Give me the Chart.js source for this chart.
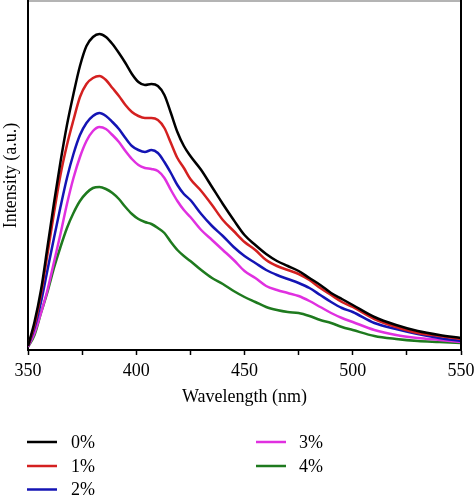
<!DOCTYPE html>
<html>
<head>
<meta charset="utf-8">
<script src="https://cdn.jsdelivr.net/npm/chart.js@4"></script>
<style>
html,body{margin:0;padding:0;background:#fff;}
#wrap{width:474px;height:496px;position:relative;}
</style>
</head>
<body>
<div id="wrap"><canvas id="c" width="474" height="496"></canvas></div>
<script>
const wavelengths = [350,353,356,359,362,365,368,371,374,377,380,383,386,389,392,395,398,401,404,407,410,413,416,419,422,425,430,435,440,445,450,455,460,465,470,475,480,485,490,495,500,510,520,530,540,550];
const seriesLabels = ['0%','1%','2%','3%','4%'];
const s0 = [4,28,60,103,147,188,225,256,284,304,313,316,313,306,297,287,276,268,265,266,264,255,237,218,204,194,180,163,146,130,115,105,96,89,84,79,72,65,57,51,45,33,25,19,15,12];
const s1 = [4,25,56,96,137,175,205,230,253,266,272,274,270,262,254,245,238,234,232,232,230,222,207,192,182,171,159,145,130,119,108,100,90,84,80,76,70,62,55,48,43,31,23,17,14,11];
const s2 = [4,22,48,80,112,143,172,196,215,227,234,237,234,228,221,212,204,200,198,200,197,188,177,165,156,150,136,124,114,103,94,87,80,75,71,67,62,55,48,42,38,27,21,16,12,9];
const s3 = [3,17,37,60,88,116,146,172,193,209,219,223,221,215,208,199,191,185,182,181,179,172,160,149,140,133,120,110,100,90,79,72,64,60,57,54,49,43,37,32,28,20,15,12,10,8];
const s4 = [3,15,37,58,82,103,122,137,149,157,162,163,161,157,151,143,136,131,128,126,122,117,108,100,94,89,80,72,66,59,53,48,43,40,38,37,34,30,27,23,20,14,11,9,8,7];
const seriesValues = [s0,s1,s2,s3,s4];
const colors = ['#000000','#d42020','#1414b4','#e030e0','#1e7a1e'];
const xTickStep = 25;
const xLabelStep = 50;

const FONT = "'Liberation Serif','Times New Roman',serif";

const datasets = seriesLabels.map((lab,i)=>({
  label: lab,
  data: wavelengths.map((w,j)=>({x:w,y:seriesValues[i][j]})),
  borderColor: colors[i],
  backgroundColor: colors[i],
  borderWidth: 2.5,
  pointRadius: 0,
  cubicInterpolationMode: 'monotone',
  fill: false
}));

const framePlugin = {
  id:'frame',
  afterDraw(chart){
    const {ctx, chartArea:a} = chart;
    ctx.save();
    ctx.fillStyle = '#b4b4b4';
    ctx.fillRect(a.left+1, 0, a.right-a.left-1, 2);
    ctx.strokeStyle = '#000';
    ctx.lineWidth = 2;
    ctx.beginPath();
    ctx.moveTo(a.right, 0);
    ctx.lineTo(a.right, a.bottom+1);
    ctx.stroke();
    const rowsY = [442, 466, 489.5];
    const cols = [{lx:27, tx:71}, {lx:256, tx:299}];
    ctx.font = '18px ' + FONT;
    ctx.textBaseline = 'middle';
    ctx.textAlign = 'left';
    chart.data.datasets.forEach((ds,i)=>{
      const col = i < 3 ? 0 : 1;
      const row = i < 3 ? i : i - 3;
      const y = rowsY[row];
      ctx.strokeStyle = ds.borderColor;
      ctx.lineWidth = 2.5;
      ctx.beginPath();
      ctx.moveTo(cols[col].lx, y);
      ctx.lineTo(cols[col].lx + 30, y);
      ctx.stroke();
      ctx.fillStyle = '#000';
      ctx.fillText(ds.label, cols[col].tx, y + 1);
    });
    ctx.restore();
  }
};

new Chart(document.getElementById('c'), {
  type: 'line',
  data: { datasets },
  plugins: [framePlugin],
  options: {
    responsive: false,
    animation: false,
    layout: { padding: { left: 0, right: 13, top: 1, bottom: 0 } },
    plugins: { legend: { display: false }, tooltip: { enabled: false } },
    scales: {
      x: {
        type: 'linear',
        min: 350, max: 550,
        afterFit(scale){ scale.height = 146; scale.paddingLeft = 0; scale.paddingRight = 0; },
        border: { display: true, color: '#000', width: 2 },
        grid: { display: true, drawOnChartArea: false, drawTicks: true, tickLength: 5, tickColor: '#000', tickWidth: 1.5 },
        ticks: {
          stepSize: xTickStep,
          autoSkip: false,
          maxRotation: 0,
          padding: 5,
          color: '#000',
          font: { family: FONT, size: 18 },
          callback: (v) => (v % xLabelStep === 0 ? String(v) : '')
        },
        title: {
          display: true,
          text: 'Wavelength (nm)',
          color: '#000',
          font: { family: FONT, size: 18 },
          padding: { top: 0, bottom: 88 }
        }
      },
      y: {
        min: 0, max: 349,
        afterFit(scale){ scale.width = 28; scale.paddingTop = 0; scale.paddingBottom = 0; },
        border: { display: true, color: '#000', width: 2 },
        grid: { display: false },
        ticks: { display: false },
        title: {
          display: true,
          text: 'Intensity (a.u.)',
          color: '#000',
          font: { family: FONT, size: 18 },
          padding: { top: 0, bottom: 0 }
        }
      }
    }
  }
});
</script>
</body>
</html>
